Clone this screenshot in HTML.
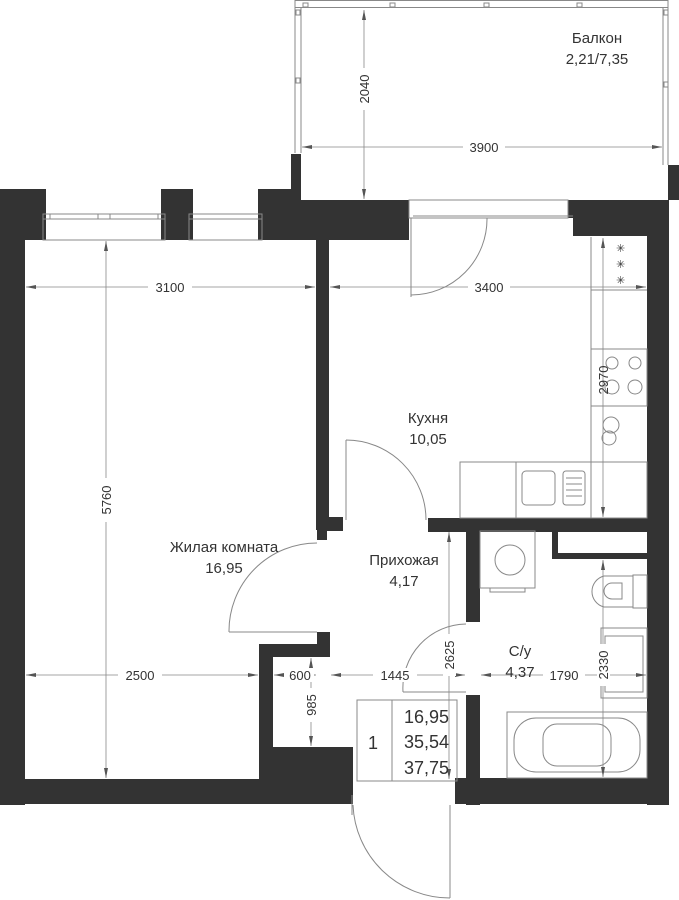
<!DOCTYPE html>
<html><head><meta charset="utf-8"><style>
html,body{margin:0;padding:0;background:#fff;width:679px;height:900px;overflow:hidden}
svg{display:block}
text{font-family:"Liberation Sans",sans-serif;fill:#333}
</style></head><body>
<svg width="679" height="900" viewBox="0 0 679 900" xmlns="http://www.w3.org/2000/svg">
<defs>
<marker id="a" viewBox="0 0 10 6" refX="10" refY="3" markerWidth="10" markerHeight="6" orient="auto-start-reverse" markerUnits="userSpaceOnUse"><path d="M0,1 L10,3 L0,5 z" fill="#555"/></marker>
</defs>
<g fill="none" stroke="#888" stroke-width="1">
<rect x="295" y="0.5" width="373" height="7"/>
<line x1="295" y1="0" x2="295" y2="153"/><line x1="301" y1="8" x2="301" y2="153"/>
<line x1="663" y1="8" x2="663" y2="165"/><line x1="668" y1="0" x2="668" y2="165"/>
<rect x="303" y="3" width="5" height="4"/><rect x="390" y="3" width="5" height="4"/><rect x="484" y="3" width="5" height="4"/><rect x="577" y="3" width="5" height="4"/>
<rect x="296" y="78" width="4" height="5"/><rect x="664" y="82" width="4" height="5"/><rect x="296" y="10" width="4" height="5"/><rect x="664" y="10" width="4" height="5"/>
</g>
<g fill="#333">
<rect x="0" y="189" width="46" height="51"/>
<rect x="0" y="189" width="25" height="616"/>
<rect x="161" y="189" width="32" height="51"/>
<rect x="258" y="189" width="40" height="51"/>
<rect x="291" y="154" width="10" height="46"/>
<rect x="258" y="200" width="151" height="40"/>
<rect x="316" y="238" width="13" height="292"/>
<rect x="317" y="517" width="26" height="14"/>
<rect x="317" y="531" width="10" height="9"/>
<rect x="568" y="200" width="99" height="18"/>
<rect x="573" y="200" width="94" height="36"/>
<rect x="668" y="165" width="11" height="35"/>
<rect x="647" y="200" width="22" height="605"/>
<rect x="317" y="632" width="13" height="25"/>
<rect x="259" y="644" width="71" height="13"/>
<rect x="259" y="644" width="14" height="160"/>
<rect x="273" y="747" width="80" height="57"/>
<rect x="0" y="779" width="353" height="25"/>
<rect x="428" y="518" width="221" height="14"/>
<rect x="466" y="518" width="14" height="104"/>
<rect x="552" y="531" width="6" height="28"/>
<rect x="552" y="553" width="97" height="6"/>
<rect x="466" y="695" width="14" height="110"/>
<rect x="455" y="778" width="214" height="26"/>
</g>
<g fill="none" stroke="#888" stroke-width="1">
<rect x="43" y="214" width="122" height="26"/><line x1="43" y1="219" x2="165" y2="219"/>
<line x1="50" y1="214" x2="50" y2="219"/><line x1="98" y1="214" x2="98" y2="219"/><line x1="110" y1="214" x2="110" y2="219"/><line x1="158" y1="214" x2="158" y2="219"/>
<rect x="189" y="214" width="73" height="26"/><line x1="189" y1="219" x2="262" y2="219"/>
<rect x="409" y="200" width="159" height="18"/>
<line x1="413" y1="216" x2="573" y2="216"/>
<line x1="411" y1="218" x2="411" y2="297"/><path d="M411,295 A76,76 0 0 0 487,218"/>
<line x1="346" y1="440" x2="346" y2="520"/><path d="M346,440 A80,80 0 0 1 426,520"/>
<line x1="229" y1="632" x2="317" y2="632"/><path d="M229,632 A88,88 0 0 1 317,543"/>
<line x1="403" y1="692" x2="466" y2="692"/><path d="M403,692 A64,64 0 0 1 466,624"/>
<line x1="450" y1="805" x2="450" y2="898"/><path d="M353,805 A97,97 0 0 0 450,898"/>
<line x1="352" y1="795" x2="352" y2="815"/>
<line x1="591" y1="237" x2="591" y2="518"/>
<line x1="591" y1="290" x2="647" y2="290"/>
<rect x="591" y="349" width="56" height="57"/>
<circle cx="612" cy="363" r="6"/><circle cx="635" cy="363" r="6"/><circle cx="612" cy="387" r="7"/><circle cx="635" cy="387" r="7"/>
<circle cx="611" cy="425" r="8"/><circle cx="609" cy="438" r="7"/>
<rect x="460" y="462" width="187" height="56"/>
<line x1="516" y1="462" x2="516" y2="518"/>
<rect x="522" y="471" width="33" height="34" rx="4"/>
<rect x="563" y="471" width="22" height="34" rx="3"/>
<line x1="566" y1="478" x2="582" y2="478"/><line x1="566" y1="484" x2="582" y2="484"/><line x1="566" y1="490" x2="582" y2="490"/><line x1="566" y1="496" x2="582" y2="496"/>
<rect x="480" y="531" width="55" height="57"/>
<circle cx="510" cy="560" r="15"/>
<rect x="490" y="588" width="35" height="4"/>
<rect x="633" y="575" width="14" height="33"/>
<path d="M633,576 L604,576 A16,16 0 0 0 604,607 L633,607"/>
<path d="M622,583 L612,583 A8,8 0 0 0 612,599 L622,599 Z"/>
<rect x="601" y="628" width="46" height="70"/><rect x="605" y="636" width="38" height="56"/>
<rect x="507" y="712" width="140" height="66"/><rect x="514" y="718" width="126" height="54" rx="22"/><rect x="543" y="724" width="68" height="42" rx="14"/>
<rect x="357" y="700" width="100" height="81"/>
<line x1="392" y1="700" x2="392" y2="781"/>
</g>
<g fill="#666" font-size="11">
<text x="616" y="252">✳</text><text x="616" y="268">✳</text><text x="616" y="284">✳</text>
</g>
<g stroke="#888" stroke-width="0.8" fill="none">
<line x1="364" y1="10" x2="364" y2="199" marker-start="url(#a)" marker-end="url(#a)"/>
<line x1="302" y1="147" x2="662" y2="147" marker-start="url(#a)" marker-end="url(#a)"/>
<line x1="26" y1="287" x2="315" y2="287" marker-start="url(#a)" marker-end="url(#a)"/>
<line x1="330" y1="287" x2="646" y2="287" marker-start="url(#a)" marker-end="url(#a)"/>
<line x1="106" y1="241" x2="106" y2="778" marker-start="url(#a)" marker-end="url(#a)"/>
<line x1="603" y1="238" x2="603" y2="517" marker-start="url(#a)" marker-end="url(#a)"/>
<line x1="26" y1="675" x2="258" y2="675" marker-start="url(#a)" marker-end="url(#a)"/>
<line x1="274" y1="675" x2="316" y2="675" marker-start="url(#a)" marker-end="url(#a)"/>
<line x1="331" y1="675" x2="465" y2="675" marker-start="url(#a)" marker-end="url(#a)"/>
<line x1="481" y1="675" x2="646" y2="675" marker-start="url(#a)" marker-end="url(#a)"/>
<line x1="311" y1="658" x2="311" y2="746" marker-start="url(#a)" marker-end="url(#a)"/>
<line x1="449" y1="532" x2="449" y2="779" marker-start="url(#a)" marker-end="url(#a)"/>
<line x1="603" y1="560" x2="603" y2="777" marker-start="url(#a)" marker-end="url(#a)"/>
</g>
<g font-size="13" text-anchor="middle">
<rect x="352" y="68" width="22" height="42" fill="#fff"/>
<text transform="translate(369,89) rotate(-90)">2040</text>
<rect x="463" y="140" width="42" height="14" fill="#fff"/><text x="484" y="152">3900</text>
<rect x="148" y="280" width="44" height="14" fill="#fff"/><text x="170" y="292">3100</text>
<rect x="468" y="280" width="42" height="14" fill="#fff"/><text x="489" y="292">3400</text>
<rect x="100" y="478" width="13" height="44" fill="#fff"/><text transform="translate(111,500) rotate(-90)">5760</text>
<text transform="translate(608,380) rotate(-90)">2970</text>
<rect x="118" y="668" width="44" height="14" fill="#fff"/><text x="140" y="680">2500</text>
<rect x="284" y="668" width="30" height="14" fill="#fff"/><text x="300" y="680">600</text>
<rect x="373" y="668" width="44" height="14" fill="#fff"/><text x="395" y="680">1445</text>
<rect x="543" y="668" width="42" height="14" fill="#fff"/><text x="564" y="680">1790</text>
<rect x="305" y="688" width="13" height="34" fill="#fff"/><text transform="translate(316,705) rotate(-90)">985</text>
<rect x="443" y="634" width="13" height="42" fill="#fff"/><text transform="translate(454,655) rotate(-90)">2625</text>
<rect x="597" y="644" width="13" height="42" fill="#fff"/><text transform="translate(608,665) rotate(-90)">2330</text>
</g>
<g font-size="15" text-anchor="middle">
<text x="597" y="43">Балкон</text><text x="597" y="64">2,21/7,35</text>
<text x="428" y="423">Кухня</text><text x="428" y="444">10,05</text>
<text x="224" y="552">Жилая комната</text><text x="224" y="573">16,95</text>
<text x="404" y="565">Прихожая</text><text x="404" y="586">4,17</text>
<text x="520" y="656">С/у</text><text x="520" y="677">4,37</text>
</g>
<g font-size="18">
<text x="373" y="749" text-anchor="middle">1</text>
<text x="449" y="723" text-anchor="end">16,95</text>
<text x="449" y="748" text-anchor="end">35,54</text>
<text x="449" y="774" text-anchor="end">37,75</text>
</g>
</svg>
</body></html>
